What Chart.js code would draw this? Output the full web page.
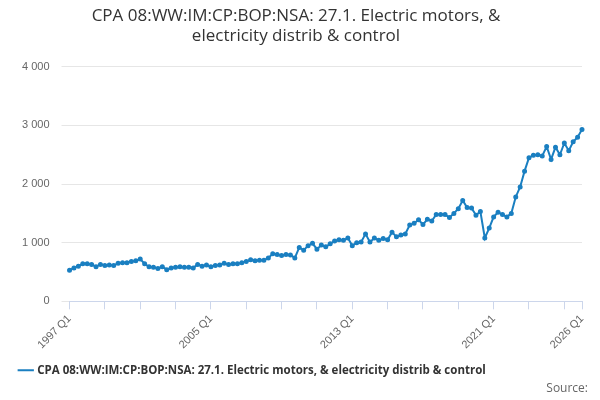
<!DOCTYPE html>
<html><head><meta charset="utf-8">
<script src="https://cdn.jsdelivr.net/npm/chart.js@4"></script>
<style>body{margin:0;background:#fff;font-family:"Open Sans",sans-serif}#w{position:relative;width:600px;height:400px}
#src{position:absolute;right:12px;bottom:4px;font-size:12px;color:#666}</style>
</head><body><div id="w"><canvas id="c" width="600" height="400"></canvas><div id="src">Source:</div></div>
<script>
const titulo = ["CPA 08:WW:IM:CP:BOP:NSA: 27.1. Electric motors, &", "electricity distrib & control"];
const serieNome = "CPA 08:WW:IM:CP:BOP:NSA: 27.1. Electric motors, & electricity distrib & control";
const trimestres = [];
for (let a = 1997; a <= 2026; a++) for (let q = 1; q <= 4; q++) if (a < 2026 || q === 1) trimestres.push(a + " Q" + q);
const valores = [
  530, 570, 600, 640,  640, 630, 590, 630,  610, 620, 610, 650,  660, 660, 680, 690,
  720, 640, 590, 580,  560, 590, 540, 570,  580, 590, 580, 580,  570, 630, 600, 620,
  590, 610, 620, 650,  630, 640, 640, 660,  680, 710, 690, 700,  700, 740, 810, 800,
  780, 800, 790, 740,  920, 870, 950, 990,  890, 960, 930, 980,  1030, 1050, 1040, 1080,
  950, 1000, 1010, 1150,  1010, 1080, 1040, 1070,  1050, 1180, 1100, 1130,  1150, 1300, 1330, 1390,
  1310, 1400, 1370, 1480,  1480, 1480, 1430, 1500,  1580, 1720, 1600, 1590,  1470, 1530, 1080, 1250,
  1440, 1520, 1480, 1440,  1500, 1780, 1950, 2220,  2450, 2490, 2500, 2480,  2640, 2420, 2630, 2500,
  2700, 2570, 2720, 2800,  2930
];
const rotulosX = [0, 32, 64, 96, 116];
const cor = "#1a7fc1";

new Chart(document.getElementById("c"), {
  type: "line",
  data: { labels: trimestres, datasets: [{ label: serieNome, data: valores, borderColor: cor, backgroundColor: cor,
    borderWidth: 2, pointRadius: 1.5, pointHoverRadius: 3, tension: 0 }] },
  options: {
    responsive: false, animation: false,
    layout: { padding: { left: 10, right: 18, bottom: 14 } },
    plugins: {
      title: { display: true, text: titulo, color: "#333", font: { size: 17, family: "Open Sans", weight: "normal" }, padding: { top: 6, bottom: 20 } },
      legend: { position: "bottom", align: "start", labels: { usePointStyle: true, pointStyle: "line", color: "#333", boxWidth: 12,
        font: { size: 11.5, weight: "bold", family: "Open Sans" } } }
    },
    scales: {
      x: {
        offset: false,
        grid: { drawOnChartArea: false, color: "#ccd6eb", tickLength: 8 },
        border: { color: "#ccd6eb" },
        afterBuildTicks: s => { s.ticks = s.ticks.filter(t => t.value % 8 === 0 || t.value === 116); },
        ticks: { autoSkip: false, maxRotation: 45, minRotation: 45, color: "#666", font: { size: 11 },
          callback: v => rotulosX.includes(v) ? trimestres[v] : "" }
      },
      y: {
        min: 0, max: 4000,
        grid: { color: "#e6e6e6" }, border: { display: false },
        ticks: { stepSize: 1000, color: "#666", font: { size: 11 }, padding: 12,
          callback: v => v.toLocaleString("en").replace(",", " ") }
      }
    }
  }
});
</script></body></html>
